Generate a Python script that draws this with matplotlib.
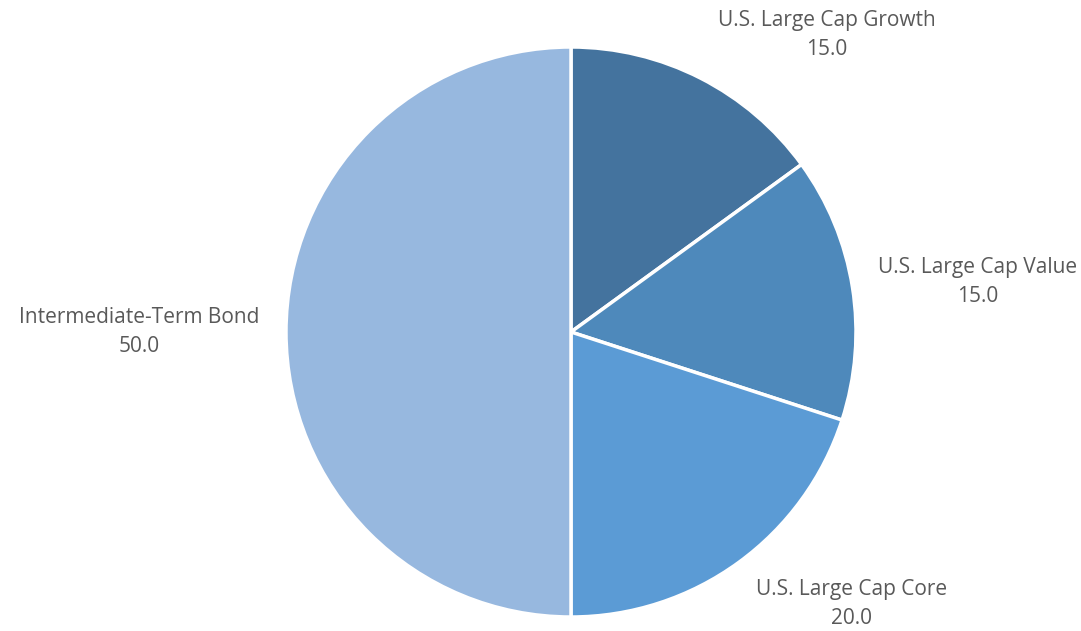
import matplotlib.pyplot as plt

labels = ["U.S. Large Cap Growth", "U.S. Large Cap Value", "U.S. Large Cap Core", "Intermediate-Term Bond"]
values = [15.0, 15.0, 20.0, 50.0]
colors = ["#44739E", "#4E89BB", "#5B9BD5", "#97B8DF"]

# label anchor offsets from the pie centre, in pixels
label_offsets = [(256, 297), (407, 50), (281, -272), (-432, 0)]

W, H = 1081, 631
cx, cy, r = 571, H - 332, 285

fig = plt.figure(figsize=(W / 100, H / 100), dpi=100)
ax = fig.add_axes([0, 0, 1, 1])

ax.pie(values, colors=colors, startangle=90, counterclock=False,
       center=(cx, cy), radius=r, frame=True,
       wedgeprops=dict(edgecolor="white", linewidth=2.5))
ax.set_xlim(0, W)
ax.set_ylim(0, H)
ax.set_aspect("equal")
ax.axis("off")

for lab, val, (dx, dy) in zip(labels, values, label_offsets):
    ax.text(cx + dx, cy + dy, f"{lab}\n{val:.1f}", ha="center", va="center",
            fontsize=15, color="#595959", family="Open Sans", linespacing=1.45)

fig.savefig("out.png", dpi=100)
